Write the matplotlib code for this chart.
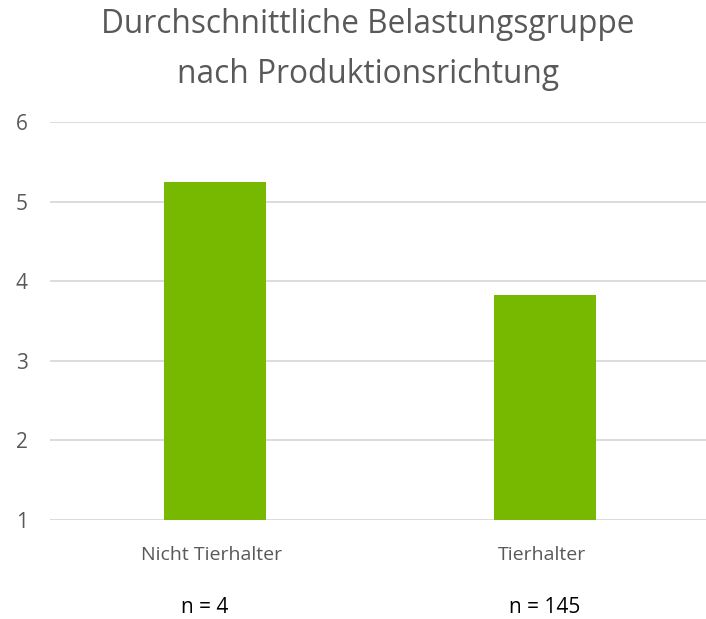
import numpy as np
import matplotlib.pyplot as plt
import matplotlib.transforms as mtransforms

plt.rcParams.update({'font.family': ['Open Sans', 'DejaVu Sans']})

# Data
categories = ['Nicht Tierhalter', 'Tierhalter']
values = [5.25, 3.83]
n_labels = ['n = 4', 'n = 145']
title_lines = ['Durchschnittliche Belastungsgruppe', 'nach Produktionsrichtung']

W, H = 706, 619
fig = plt.figure(figsize=(W / 100, H / 100), dpi=100)
# axes from x=50 to ~710, y from 122 (6) to 520 (1)
ax = fig.add_axes([50 / W, (H - 520) / H, 660 / W, 398 / H])

x = np.arange(len(categories))
ax.bar(x, np.array(values) - 1, bottom=1, width=0.31, color='#76b900', zorder=3)

ax.set_xlim(-0.5, 1.5)
ax.set_ylim(1, 6)
ax.set_yticks(range(1, 7))
ax.grid(axis='y', color='#d9d9d9', linewidth=1.3, zorder=0)
for s in ax.spines.values():
    s.set_visible(False)
ax.tick_params(axis='y', length=0, pad=16, labelsize=15, labelcolor='#595959')
ax.set_xticks([])

# category labels and n labels below the axis (offsets in pixels)
trans = mtransforms.blended_transform_factory(ax.transData, ax.transAxes)
n_dx = [-10, 0]
for xi, cat, lab, dx in zip(x, categories, n_labels, n_dx):
    ax.annotate(cat, xy=(xi, 0), xycoords=trans, xytext=(-3, -40),
                textcoords='offset pixels', ha='center', va='baseline',
                fontsize=14, color='#595959')
    ax.annotate(lab, xy=(xi, 0), xycoords=trans, xytext=(dx, -93),
                textcoords='offset pixels', ha='center', va='baseline',
                fontsize=15, color='black')

fig.text(368 / W, 1 - 33 / H, title_lines[0], ha='center', va='baseline',
         fontsize=22.8, color='#595959')
fig.text(368 / W, 1 - 83 / H, title_lines[1], ha='center', va='baseline',
         fontsize=22.8, color='#595959')

plt.savefig('out.png', dpi=100)
